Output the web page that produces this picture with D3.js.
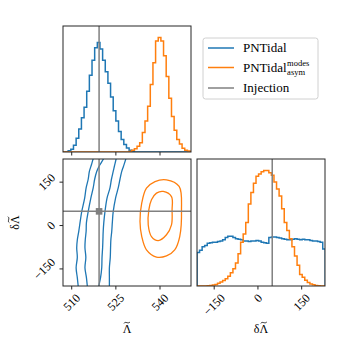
<!DOCTYPE html>
<html><head><meta charset="utf-8">
<script src="https://cdn.jsdelivr.net/npm/d3@7"></script>
<style>html,body{margin:0;padding:0;background:#fff;}svg{display:block;font-family:"Liberation Serif",serif;}</style>
</head><body>
<svg id="chart" width="350" height="350"></svg>
<script>
// ---------------- data ----------------
const lambdaDomain = [507.04, 550.53];
const deltaDomain = [-209, 230];
const lambdaTicks = [510, 525, 540];
const deltaTicks = [-150, 0, 150];
const lambdaBinStart = 507, lambdaBinWidth = 0.9;
const deltaBinStart = -209, deltaBinWidth = 8.8;

const injectionLambda = 519.3;
const injectionDelta = 49;

const seriesNames = ["PNTidal", "PNTidal", "Injection"];

// normalised histogram heights, Λ̃ marginal
const lambdaHistPNT = [0,0.003,0.01,0.025,0.058,0.12,0.20,0.30,0.39,0.53,0.67,0.80,0.91,0.955,0.90,0.80,0.70,0.60,0.48,0.36,0.27,0.18,0.11,0.065,0.035,0.015,0.005,0.001,
  0,0,0,0,0,0,0,0,0,0,0,0,0,0,0,0,0,0,0,0,0];
const lambdaHistAsym = [0,0,0,0,0,0,0,0,0,0,0,0,0,0,0,0,0,0,0,0,0,0,0,0,0,
  0.005,0.015,0.028,0.05,0.08,0.17,0.27,0.40,0.59,0.78,0.97,1.0,0.97,0.84,0.66,0.47,0.31,0.19,0.11,0.07,0.032,0.016,0.008,0.003];
// δΛ̃ marginal
const deltaHistPNT = [0.29,0.31,0.34,0.35,0.37,0.375,0.38,0.38,0.385,0.39,0.40,0.42,0.43,0.43,0.42,0.41,0.405,0.40,0.39,0.39,0.385,0.39,0.39,0.395,0.39,0.38,0.375,0.37,0.42,0.425,0.425,0.42,0.415,0.41,0.405,0.40,0.40,0.405,0.41,0.405,0.40,0.405,0.40,0.40,0.395,0.39,0.39,0.385,0.38,0.32];
const deltaHistAsym = [0,0,0,0,0.002,0.005,0.008,0.013,0.024,0.034,0.048,0.062,0.085,0.115,0.15,0.20,0.28,0.38,0.45,0.55,0.71,0.81,0.89,0.95,0.97,0.99,1.0,1.0,0.98,0.96,0.90,0.84,0.78,0.67,0.55,0.48,0.41,0.34,0.26,0.18,0.10,0.075,0.05,0.03,0.018,0.01,0.005,0.002,0,0];

// 2D contours [Λ̃, δΛ̃]
const pntContour1 = [[517.9,250],[517.3,231],[516.7,210],[516.0,187],[515.6,160],[514.9,130],[514.4,95],[513.4,48],[512.9,15],[512.4,-20],[511.9,-50],[511.7,-77],[511.9,-110],[511.5,-146],[511.9,-180],[512.2,-209],[512.4,-230]];
const pntContour2 = [[521.3,250],[520.8,231],[519.3,205],[518.5,187],[517.8,160],[517.3,130],[516.5,95],[515.6,48],[515.0,10],[514.9,-20],[514.6,-50],[514.5,-77],[514.8,-110],[514.5,-146],[515.0,-180],[515.3,-209],[515.5,-230]];
const pntContour3 = [[525.4,250],[525.1,231],[524.5,205],[524.1,187],[523.5,160],[523.0,130],[522.0,95],[521.3,48],[520.9,10],[520.7,-20],[520.6,-50],[520.5,-77],[520.3,-110],[520.2,-146],[519.8,-180],[519.2,-209],[518.9,-230]];
const pntContour4 = [[528.8,250],[528.4,231],[527.6,205],[527.0,187],[526.4,160],[525.8,130],[524.9,95],[524.1,48],[523.8,10],[523.6,-20],[523.3,-50],[523.2,-77],[523.1,-110],[522.8,-146],[522.8,-180],[522.8,-209],[522.8,-230]];
const asymContourOuter = [[542.2,158],[546.5,135],[547.3,54],[546.7,-38],[545.0,-84],[542.2,-105],[538.8,-109],[535.4,-84],[533.8,-38],[533.2,14],[533.8,78],[535.4,129],[538.3,152]];
const asymContourInner = [[541.1,118],[543.9,100],[544.1,54],[543.9,2],[542.2,-32],[539.4,-52],[537.1,-38],[536.0,2],[536.2,54],[537.1,89],[538.8,112]];

// ---------------- styles ----------------
const C_BLUE = "#1f77b4", C_ORANGE = "#ff7f0e", C_GRAY = "#808080", C_SPINE = "#262626";
const FS = 12;

const svg = d3.select("#chart");

const topBox = {x0:63, x1:191, y0:26, y1:152};
const blBox = {x0:63, x1:191, y0:159, y1:286};
const brBox = {x0:197, x1:325, y0:159, y1:286};

const xL = d3.scaleLinear().domain(lambdaDomain).range([blBox.x0, blBox.x1]);
const yTop = d3.scaleLinear().domain([0, 1.1]).range([topBox.y1, topBox.y0]);
const yD = d3.scaleLinear().domain(deltaDomain).range([blBox.y1, blBox.y0]);
const xD = d3.scaleLinear().domain(deltaDomain).range([brBox.x0, brBox.x1]);
const yBR = d3.scaleLinear().domain([0, 1.1]).range([brBox.y1, brBox.y0]);

function clip(id, b){
  svg.append("clipPath").attr("id", id).append("rect")
    .attr("x", b.x0).attr("y", b.y0).attr("width", b.x1-b.x0).attr("height", b.y1-b.y0);
}
clip("cTop", topBox); clip("cBL", blBox); clip("cBR", brBox);

function stepPath(values, start, width, xs, ys){
  const pts = [];
  pts.push([xs(start), ys(0)]);
  values.forEach((v,i)=>{
    pts.push([xs(start+i*width), ys(v)]);
    pts.push([xs(start+(i+1)*width), ys(v)]);
  });
  pts.push([xs(start+values.length*width), ys(0)]);
  return d3.line()(pts);
}

// ----- top panel (Λ̃ marginal)
const gTop = svg.append("g").attr("clip-path","url(#cTop)");
[[lambdaHistPNT, C_BLUE],[lambdaHistAsym, C_ORANGE]].forEach(([vals,c])=>{
  gTop.append("path").attr("d", stepPath(vals, lambdaBinStart, lambdaBinWidth, xL, yTop))
    .attr("fill","none").attr("stroke",c).attr("stroke-width",1.5);
});
gTop.append("line").attr("x1",xL(injectionLambda)).attr("x2",xL(injectionLambda))
  .attr("y1",topBox.y0).attr("y2",topBox.y1).attr("stroke",C_GRAY).attr("stroke-width",1.5);

// ----- bottom-right (δΛ̃ marginal)
const gBR = svg.append("g").attr("clip-path","url(#cBR)");
[[deltaHistPNT, C_BLUE],[deltaHistAsym, C_ORANGE]].forEach(([vals,c])=>{
  gBR.append("path").attr("d", stepPath(vals, deltaBinStart, deltaBinWidth, xD, yBR))
    .attr("fill","none").attr("stroke",c).attr("stroke-width",1.5);
});
gBR.append("line").attr("x1",xD(injectionDelta)).attr("x2",xD(injectionDelta))
  .attr("y1",brBox.y0).attr("y2",brBox.y1).attr("stroke",C_GRAY).attr("stroke-width",1.5);

// ----- bottom-left (2D)
const gBL = svg.append("g").attr("clip-path","url(#cBL)");
const openLine = d3.line().x(d=>xL(d[0])).y(d=>yD(d[1])).curve(d3.curveCatmullRom);
const closedLine = d3.line().x(d=>xL(d[0])).y(d=>yD(d[1])).curve(d3.curveCatmullRomClosed);
[pntContour1, pntContour2, pntContour3, pntContour4].forEach(c=>{
  gBL.append("path").attr("d", openLine(c)).attr("fill","none").attr("stroke",C_BLUE).attr("stroke-width",1.3);
});
[asymContourOuter, asymContourInner].forEach(c=>{
  gBL.append("path").attr("d", closedLine(c)).attr("fill","none").attr("stroke",C_ORANGE).attr("stroke-width",1.3);
});
gBL.append("line").attr("x1",xL(injectionLambda)).attr("x2",xL(injectionLambda))
  .attr("y1",blBox.y0).attr("y2",blBox.y1).attr("stroke",C_GRAY).attr("stroke-width",1.5);
gBL.append("line").attr("x1",blBox.x0).attr("x2",blBox.x1)
  .attr("y1",yD(injectionDelta)).attr("y2",yD(injectionDelta)).attr("stroke",C_GRAY).attr("stroke-width",1.5);
gBL.append("rect").attr("x",xL(injectionLambda)-3.3).attr("y",yD(injectionDelta)-3.3)
  .attr("width",6.6).attr("height",6.6).attr("fill",C_GRAY);

// ----- frames and ticks
function frame(b){
  svg.append("rect").attr("x",b.x0).attr("y",b.y0).attr("width",b.x1-b.x0).attr("height",b.y1-b.y0)
    .attr("fill","none").attr("stroke",C_SPINE).attr("stroke-width",1);
}
[topBox, blBox, brBox].forEach(frame);

const TL = 3.5, PAD = 3.5;
function rotLabel(txt, cx, cy, mode){
  const t = svg.append("text").attr("font-size",FS).attr("text-anchor","middle")
    .attr("dominant-baseline","central").attr("fill","#000").text(txt);
  const w = t.node().getComputedTextLength();
  const h = FS*0.68;
  const ext = (w+h)/(2*Math.SQRT2);
  let x=cx, y=cy;
  if(mode==="x") y = cy + ext; else x = cx - ext;
  t.attr("transform",`translate(${x},${y}) rotate(-45)`);
}
const fmt = v => v<0 ? "\u2212"+Math.abs(v) : String(v);

function xTicks(scale, ticks, b, labels){
  ticks.forEach(v=>{
    const x = scale(v);
    svg.append("line").attr("x1",x).attr("x2",x).attr("y1",b.y1).attr("y2",b.y1+TL)
      .attr("stroke",C_SPINE).attr("stroke-width",1);
    if(labels) rotLabel(fmt(v), x, b.y1+TL+PAD, "x");
  });
}
xTicks(xL, lambdaTicks, topBox, false);
xTicks(xL, lambdaTicks, blBox, true);
xTicks(xD, deltaTicks, brBox, true);
deltaTicks.forEach(v=>{
  const y = yD(v);
  svg.append("line").attr("x1",blBox.x0-TL).attr("x2",blBox.x0).attr("y1",y).attr("y2",y)
    .attr("stroke",C_SPINE).attr("stroke-width",1);
  rotLabel(fmt(v), blBox.x0-TL-PAD, y, "y");
});

// ----- axis labels (Λ with a tilde accent drawn above it)
function tildeLabel(transform, prefix){
  const g = svg.append("g").attr("transform", transform);
  const full = g.append("text").attr("x",0).attr("y",0).attr("text-anchor","middle")
    .attr("font-size",FS).text(prefix + "\u039B");
  const wFull = full.node().getComputedTextLength();
  const tmp = g.append("text").attr("font-size",FS).text("\u039B");
  const wL = tmp.node().getComputedTextLength();
  tmp.remove();
  const cx = wFull/2 - wL/2;
  const p = d3.path();
  p.moveTo(cx-3, -9.6);
  p.bezierCurveTo(cx-1.6, -12.2, cx+1.2, -8.6, cx+3, -11.1);
  g.append("path").attr("d", p.toString()).attr("fill","none").attr("stroke","#000").attr("stroke-width",0.8);
}
tildeLabel(`translate(${(blBox.x0+blBox.x1)/2},333)`, "");
tildeLabel(`translate(${(brBox.x0+brBox.x1)/2},333)`, "\u03B4");
tildeLabel(`translate(19,${(blBox.y0+blBox.y1)/2}) rotate(-90)`, "\u03B4");

// ----- legend
const lg = svg.append("g");
lg.append("rect").attr("x",203).attr("y",38).attr("width",115).attr("height",61).attr("rx",2.5)
  .attr("fill","#fff").attr("fill-opacity",0.8).attr("stroke","#d0d0d0").attr("stroke-width",1);
const legendColors = [C_BLUE, C_ORANGE, C_GRAY];
const legendY = [48, 67.5, 88];
legendColors.forEach((c,i)=>{
  lg.append("line").attr("x1",208).attr("x2",234).attr("y1",legendY[i]).attr("y2",legendY[i])
    .attr("stroke",c).attr("stroke-width",1.5);
  const t = lg.append("text").attr("x",243).attr("y",legendY[i]+4.3).attr("font-size",13).text(seriesNames[i]);
  if(i===1){
    const w = t.node().getComputedTextLength();
    lg.append("text").attr("x",243+w+0.5).attr("y",legendY[i]-1.2).attr("font-size",8.5).text("modes");
    lg.append("text").attr("x",243+w+0.5).attr("y",legendY[i]+7.5).attr("font-size",8.5).text("asym");
  }
});
</script>
</body></html>
